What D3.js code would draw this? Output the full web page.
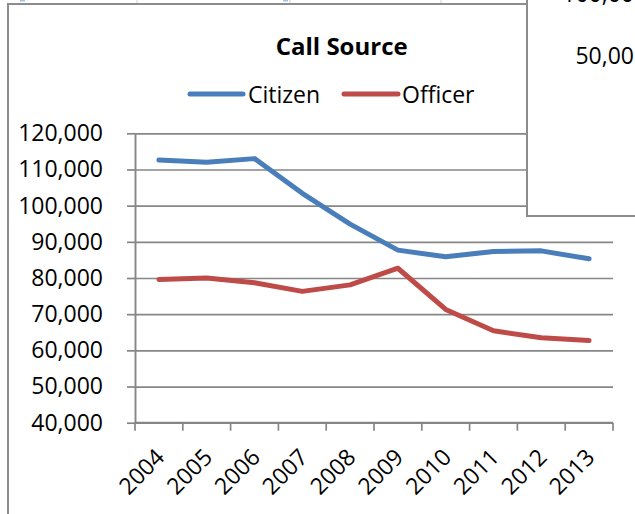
<!DOCTYPE html>
<html>
<head>
<meta charset="utf-8">
<script src="https://cdn.jsdelivr.net/npm/d3@7"></script>
<style>
  html, body { margin: 0; padding: 0; background: #ffffff; }
  svg { display: block; }
  text { font-family: "Open Sans", "Noto Sans", sans-serif; fill: #000; }
</style>
</head>
<body>
<svg id="chart" width="635" height="514"></svg>
<script>
// ---- data ----
const years = ["2004", "2005", "2006", "2007", "2008", "2009", "2010", "2011", "2012", "2013"];
const citizen = [112600, 112000, 113000, 103400, 94900, 87700, 85900, 87300, 87500, 85300];
const officer = [79600, 80000, 78700, 76300, 78100, 82700, 71300, 65400, 63500, 62700];
const yTicks = [40000, 50000, 60000, 70000, 80000, 90000, 100000, 110000, 120000];
const seriesNames = ["Citizen", "Officer"];
const chartTitle = "Call Source";
const overlayLabels = ["100,00", "50,00"];

// ---- layout ----
const W = 635, H = 514;
const plot = { left: 135, right: 613, top: 133.3, bottom: 422.7 };
const colors = { Citizen: "#4a7ebb", Officer: "#be4b48" };
const gridColor = "#868686";
const fontSize = 23;

const svg = d3.select("#chart");

// spreadsheet strip behind
const bg = svg.append("g");
bg.selectAll("line.cell").data([137, 290, 441]).join("line")
  .attr("x1", d => d).attr("x2", d => d).attr("y1", 0).attr("y2", 5)
  .attr("stroke", "#d0d0d0").attr("stroke-width", 1);
bg.selectAll("rect.sel").data([20, 283]).join("rect")
  .attr("x", d => d).attr("y", 0).attr("width", 5).attr("height", 1.5)
  .attr("fill", "#9ec3e8");

// chart area
svg.append("rect")
  .attr("x", 8).attr("y", 4).attr("width", 700).attr("height", 600)
  .attr("fill", "#ffffff").attr("stroke", "#8c8c8c").attr("stroke-width", 2);

const x = d3.scaleBand().domain(years).range([plot.left, plot.right]).paddingInner(0).paddingOuter(0);
const y = d3.scaleLinear().domain([40000, 120000]).range([plot.bottom, plot.top]);
const cx = d => x(d) + x.bandwidth() / 2;

// gridlines
const grid = svg.append("g")
  .attr("transform", `translate(${plot.left},0)`)
  .call(d3.axisLeft(y).tickValues(yTicks).tickSize(-(plot.right - plot.left)).tickFormat(""));
grid.select(".domain").remove();
grid.selectAll("line").attr("stroke", gridColor).attr("stroke-width", 1.7);

// y axis
const yAxis = svg.append("g")
  .attr("transform", `translate(${plot.left},0)`)
  .call(d3.axisLeft(y).tickValues(yTicks).tickSize(8).tickSizeOuter(0).tickPadding(24)
    .tickFormat(d3.format(",")));
yAxis.select(".domain").attr("stroke", gridColor).attr("stroke-width", 1.9);
yAxis.selectAll(".tick line").attr("stroke", gridColor).attr("stroke-width", 1.7);
yAxis.selectAll("text").style("font-size", fontSize + "px").style("font-family", '"Open Sans", sans-serif')
  .attr("fill", "#000");

// x axis line + ticks at category boundaries
const bounds = years.map(d => x(d)).concat([x.range()[1]]);
const xAxis = svg.append("g");
xAxis.append("line")
  .attr("x1", plot.left).attr("x2", plot.right).attr("y1", plot.bottom).attr("y2", plot.bottom)
  .attr("stroke", gridColor).attr("stroke-width", 1.9);
xAxis.selectAll("line.tk").data(bounds).join("line")
  .attr("class", "tk")
  .attr("x1", d => d).attr("x2", d => d).attr("y1", plot.bottom).attr("y2", plot.bottom + 8)
  .attr("stroke", gridColor).attr("stroke-width", 1.7);
xAxis.selectAll("text").data(years).join("text")
  .attr("transform", d => `translate(${cx(d) + 7},${plot.bottom + 36}) rotate(-45)`)
  .attr("text-anchor", "end")
  .style("font-size", fontSize + "px")
  .text(d => d);

// lines
const lineGen = d3.line().x((d, i) => cx(years[i])).y(d => y(d));
const seriesData = [ { name: "Citizen", values: citizen }, { name: "Officer", values: officer } ];
svg.append("g").selectAll("path").data(seriesData).join("path")
  .attr("d", s => lineGen(s.values))
  .attr("fill", "none")
  .attr("stroke", s => colors[s.name])
  .attr("stroke-width", 5)
  .attr("stroke-linejoin", "round")
  .attr("stroke-linecap", "round");

// title
svg.append("text")
  .attr("x", 341.7).attr("y", 55)
  .attr("text-anchor", "middle")
  .style("font-size", "24px").style("font-weight", "bold")
  .text(chartTitle);

// legend
const legendItems = [
  { name: seriesNames[0], x1: 190, x2: 243, tx: 248 },
  { name: seriesNames[1], x1: 344, x2: 398, tx: 402 }
];
const lg = svg.append("g");
lg.selectAll("line").data(legendItems).join("line")
  .attr("x1", d => d.x1).attr("x2", d => d.x2).attr("y1", 94).attr("y2", 94)
  .attr("stroke", d => colors[d.name]).attr("stroke-width", 5).attr("stroke-linecap", "round");
lg.selectAll("text").data(legendItems).join("text")
  .attr("x", d => d.tx).attr("y", 102.5)
  .style("font-size", fontSize + "px")
  .text(d => d.name);

// overlapping window at top right (its top label is cut off by the page edge, as in the reference)
const ov = svg.append("g");
ov.append("rect").attr("x", 527).attr("y", -10).attr("width", 120).attr("height", 226)
  .attr("fill", "#ffffff").attr("stroke", "#8c8c8c").attr("stroke-width", 2);
ov.selectAll("text").data(overlayLabels).join("text")
  .attr("x", 634).attr("y", (d, i) => i === 0 ? 1.5 : 64)
  .attr("text-anchor", "end")
  .style("font-size", fontSize + "px")
  .text(d => d);
</script>
</body>
</html>
